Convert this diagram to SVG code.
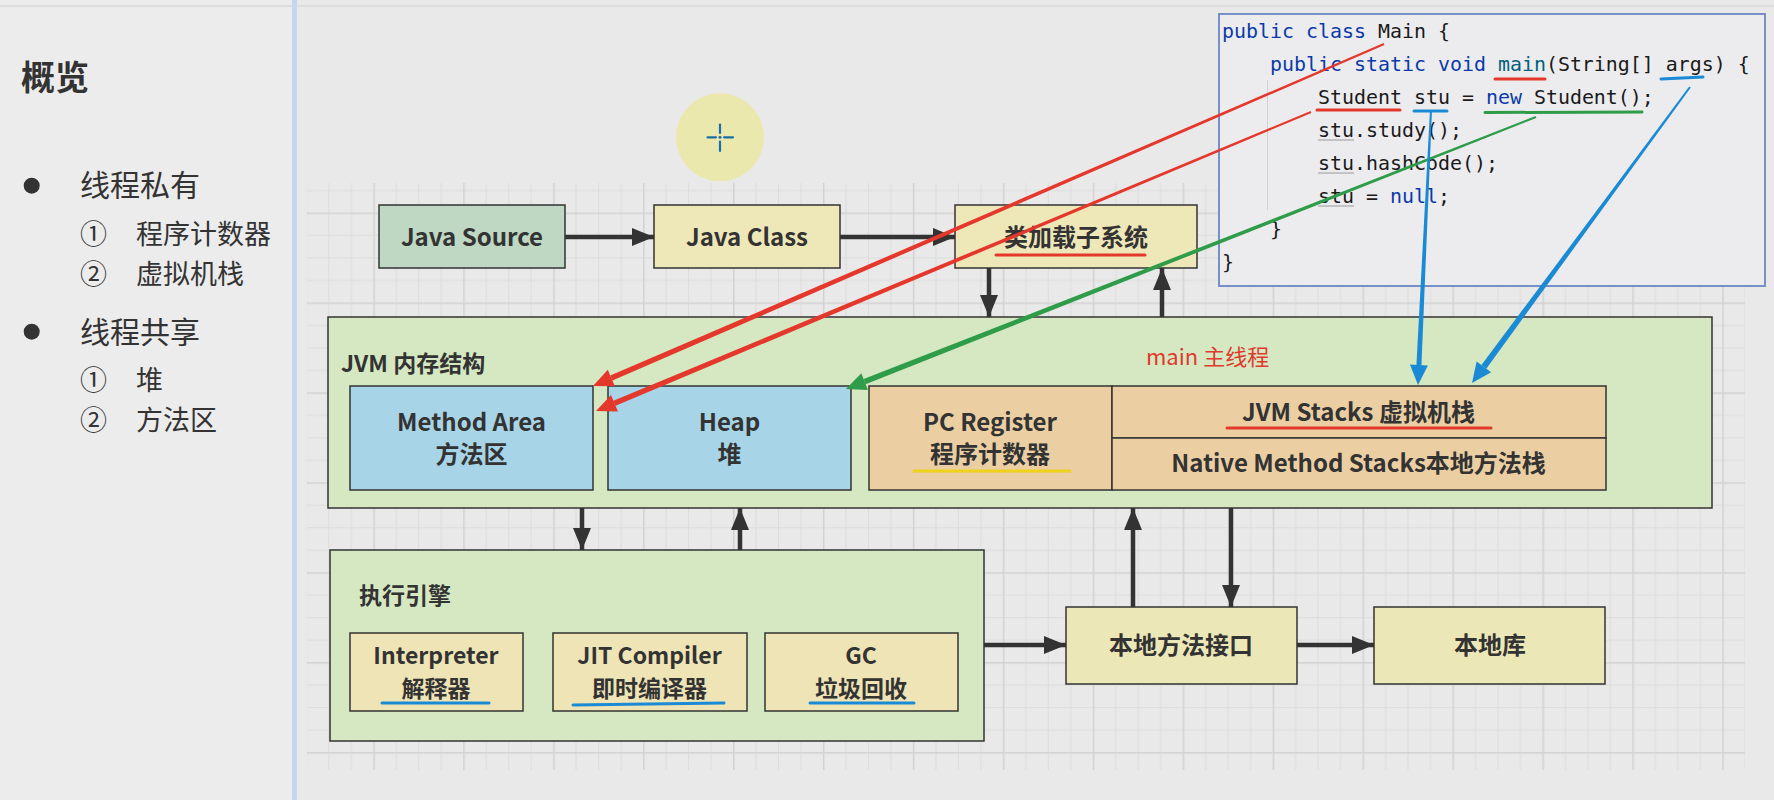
<svg xmlns="http://www.w3.org/2000/svg" width="1774" height="800" viewBox="0 0 1774 800">
<defs>
<pattern id="grid" patternUnits="userSpaceOnUse" x="373.3" y="212.5" width="89.93" height="89.93">
<rect x="22.48" y="0" width="1" height="89.93" fill="#dcdcdc"/>
<rect x="44.96" y="0" width="1" height="89.93" fill="#dcdcdc"/>
<rect x="67.45" y="0" width="1" height="89.93" fill="#dcdcdc"/>
<rect x="0" y="22.48" width="89.93" height="1" fill="#dcdcdc"/>
<rect x="0" y="44.96" width="89.93" height="1" fill="#dcdcdc"/>
<rect x="0" y="67.45" width="89.93" height="1" fill="#dcdcdc"/>
<rect x="0" y="0" width="1.5" height="89.93" fill="#d2d2d2"/>
<rect x="0" y="0" width="89.93" height="1.5" fill="#d2d2d2"/>
</pattern>
<marker id="ah" markerWidth="22" markerHeight="20" refX="22" refY="10" orient="auto" markerUnits="userSpaceOnUse">
<path d="M0,1 L22,10 L0,19 z" fill="#333"/>
</marker>
<style>
.box{stroke:#333;stroke-width:1.5}
.t{font-family:"Noto Sans CJK SC","Noto Sans",sans-serif;font-weight:bold;font-size:24px;fill:#333;text-anchor:middle}
.ts{font-size:23px}
.tl{font-family:"Noto Sans CJK SC","Noto Sans",sans-serif;font-weight:bold;font-size:23px;fill:#333}
.side{font-family:"Noto Sans CJK SC","Noto Sans",sans-serif;fill:#333}
.code{font-family:"DejaVu Sans Mono","Liberation Mono",monospace;font-size:19.93px;fill:#1a1a1a}
.kw{fill:#0b3aa8}
.fn{fill:#00627a}
.conn{stroke:#333;stroke-width:4.5;fill:none;marker-end:url(#ah)}
.ul{fill:none;stroke-width:3;stroke-linecap:round}
.red{stroke:#e5382c}
.blue{stroke:#1a8ad4}
.green{stroke:#2e9c48}
.yel{stroke:#eed21c}
</style>
</defs>

<!-- background -->
<rect x="0" y="0" width="1774" height="800" fill="#e9e9e9"/>
<rect x="0" y="0" width="292" height="800" fill="#ececec"/>
<line x1="0" y1="6" x2="1774" y2="6" stroke="#d8d8d8" stroke-width="1.5"/>
<rect x="292" y="0" width="5" height="800" fill="#c5d6f0"/>
<rect x="307" y="183" width="1438" height="587" fill="url(#grid)"/>

<!-- left panel -->
<g id="overview">
<text class="side" x="21" y="90" font-size="34" font-weight="bold" fill="#3c3c3c">概览</text>
<circle cx="31.7" cy="185.7" r="8" fill="#333"/>
<text class="side" x="80" y="196" font-size="30">线程私有</text>
<text class="side" x="80" y="243.5" font-size="27">①</text>
<text class="side" x="136" y="243.5" font-size="27">程序计数器</text>
<text class="side" x="80" y="284" font-size="27">②</text>
<text class="side" x="136" y="284" font-size="27">虚拟机栈</text>
<circle cx="31.7" cy="331.7" r="8" fill="#333"/>
<text class="side" x="80" y="342.5" font-size="30">线程共享</text>
<text class="side" x="80" y="390" font-size="27">①</text>
<text class="side" x="136" y="390" font-size="27">堆</text>
<text class="side" x="80" y="429.5" font-size="27">②</text>
<text class="side" x="136" y="429.5" font-size="27">方法区</text>
</g>

<!-- cursor highlight -->
<g id="cursor">
<circle cx="720" cy="137.3" r="44" fill="#ebe8ae"/>
<g stroke="#1a6fa8" stroke-width="2.2" stroke-linecap="round">
<line x1="707.5" y1="137.3" x2="716" y2="137.3"/>
<line x1="724" y1="137.3" x2="733" y2="137.3"/>
<line x1="720" y1="124.5" x2="720" y2="133"/>
<line x1="720" y1="141.5" x2="720" y2="151"/>
</g>
<circle cx="720" cy="137.3" r="1.5" fill="#1a6fa8"/>
</g>

<!-- code box -->
<g id="code">
<rect x="1219" y="14" width="546" height="272" fill="#ececef" stroke="#7790c8" stroke-width="2"/>
<line x1="1267.5" y1="80" x2="1267.5" y2="210" stroke="#d2d2d2" stroke-width="1"/>
<text class="code" x="1222" y="37.7" xml:space="preserve"><tspan class="kw">public class</tspan> Main {</text>
<text class="code" x="1270" y="71" xml:space="preserve"><tspan class="kw">public static void</tspan> <tspan class="fn">main</tspan>(String[] args) {</text>
<text class="code" x="1318" y="104.3" xml:space="preserve">Student stu = <tspan class="kw">new</tspan> Student();</text>
<text class="code" x="1318" y="137.3">stu.study();</text>
<text class="code" x="1318" y="170.3">stu.hashCode();</text>
<text class="code" x="1318" y="203.3" xml:space="preserve">stu = <tspan class="kw">null</tspan>;</text>
<text class="code" x="1270" y="236.3">}</text>
<text class="code" x="1222" y="269.3">}</text>
<g stroke="#9a9a9a" stroke-width="1">
<line x1="1318" y1="140" x2="1354" y2="140"/>
<line x1="1318" y1="173" x2="1354" y2="173"/>
<line x1="1318" y1="206" x2="1354" y2="206"/>
</g>
</g>

<!-- nodes -->
<g id="java-source">
<rect class="box" x="379" y="205" width="186" height="63" fill="#bed8c3"/>
<text class="t" x="472" y="246">Java Source</text>
</g>
<g id="java-class">
<rect class="box" x="654" y="205" width="186" height="63" fill="#eee7b8"/>
<text class="t" x="747" y="246">Java Class</text>
</g>
<g id="class-loader">
<rect class="box" x="955" y="205" width="242" height="63" fill="#eee7b8"/>
<text class="t" x="1076" y="246">类加载子系统</text>
</g>

<g id="jvm-memory">
<rect class="box" x="328" y="317" width="1384" height="191" fill="#d5e8c2"/>
<text class="tl" x="341" y="372">JVM 内存结构</text>
<text x="1146" y="365" font-family="Noto Sans CJK SC, Noto Sans, sans-serif" font-size="22" fill="#e03a2e">main 主线程</text>
</g>
<g id="method-area">
<rect class="box" x="350" y="386" width="243" height="104" fill="#a7d4e6"/>
<text class="t" x="471.5" y="431">Method Area</text>
<text class="t" x="471.5" y="463">方法区</text>
</g>
<g id="heap">
<rect class="box" x="608" y="386" width="243" height="104" fill="#a7d4e6"/>
<text class="t" x="729.5" y="431">Heap</text>
<text class="t" x="729.5" y="463">堆</text>
</g>
<g id="pc-register">
<rect class="box" x="869" y="386" width="243" height="104" fill="#ebcfa3"/>
<text class="t" x="990" y="431">PC Register</text>
<text class="t" x="990" y="463">程序计数器</text>
</g>
<g id="jvm-stacks">
<rect class="box" x="1112" y="386" width="494" height="52" fill="#ebcfa3"/>
<text class="t" x="1358.5" y="420.7">JVM Stacks 虚拟机栈</text>
</g>
<g id="native-stacks">
<rect class="box" x="1112" y="438" width="494" height="52" fill="#ebcfa3"/>
<text class="t" x="1358.5" y="472.3">Native Method Stacks本地方法栈</text>
</g>

<g id="exec-engine">
<rect class="box" x="330" y="550" width="654" height="191" fill="#d5e8c2"/>
<text class="tl" x="359" y="604" font-size="24">执行引擎</text>
</g>
<g id="interpreter">
<rect class="box" x="350" y="633" width="173" height="78" fill="#efe4b5"/>
<text class="t ts" x="436" y="664">Interpreter</text>
<text class="t ts" x="436" y="697">解释器</text>
</g>
<g id="jit">
<rect class="box" x="553" y="633" width="194" height="78" fill="#efe4b5"/>
<text class="t ts" x="649.5" y="664">JIT Compiler</text>
<text class="t ts" x="649.5" y="697">即时编译器</text>
</g>
<g id="gc">
<rect class="box" x="765" y="633" width="193" height="78" fill="#efe4b5"/>
<text class="t ts" x="861" y="664">GC</text>
<text class="t ts" x="861" y="697">垃圾回收</text>
</g>
<g id="native-interface">
<rect class="box" x="1066" y="607" width="231" height="77" fill="#ece7b6"/>
<text class="t" x="1181" y="654">本地方法接口</text>
</g>
<g id="native-lib">
<rect class="box" x="1374" y="607" width="231" height="77" fill="#ece7b6"/>
<text class="t" x="1490" y="654">本地库</text>
</g>

<!-- connectors -->
<g id="connectors">
<line class="conn" x1="565" y1="237" x2="654" y2="237"/>
<line class="conn" x1="840" y1="237" x2="955" y2="237"/>
<line class="conn" x1="989" y1="268" x2="989" y2="317"/>
<line class="conn" x1="1162" y1="317" x2="1162" y2="268"/>
<line class="conn" x1="582" y1="508" x2="582" y2="550"/>
<line class="conn" x1="740" y1="550" x2="740" y2="508"/>
<line class="conn" x1="1133" y1="607" x2="1133" y2="508"/>
<line class="conn" x1="1231" y1="508" x2="1231" y2="607"/>
<line class="conn" x1="984" y1="645" x2="1066" y2="645"/>
<line class="conn" x1="1297" y1="645" x2="1374" y2="645"/>
</g>

<!-- annotations: underlines -->
<g id="underlines">
<line class="ul red" x1="1495" y1="79" x2="1545" y2="79"/>
<line class="ul blue" x1="1661" y1="79" x2="1703" y2="77"/>
<line class="ul red" x1="1317" y1="110" x2="1400" y2="110"/>
<line class="ul blue" x1="1414" y1="111" x2="1447" y2="111"/>
<line class="ul green" x1="1485" y1="112.5" x2="1642" y2="112"/>
<line class="ul red" x1="996" y1="255" x2="1145" y2="255"/>
<line class="ul red" x1="1227" y1="428" x2="1491" y2="428"/>
<line class="ul yel" x1="914" y1="471" x2="1070" y2="471"/>
<line class="ul blue" x1="382" y1="703" x2="489" y2="703"/>
<line class="ul blue" x1="573" y1="705" x2="724" y2="703"/>
<line class="ul blue" x1="810" y1="703" x2="914" y2="703"/>
</g>

<!-- annotations: hand-drawn arrows -->
<g id="annotation-arrows">
<polygon fill="#e5382c" points="1383.6,43.08 1384.4,44.92 612.45,380.58 610.27,375.54"/>
<polygon fill="#e5382c" points="593,386 607.79,369.8 614.93,386.32"/>
<polygon fill="#e5382c" points="1310.61,111.08 1311.39,112.92 615.51,405.82 613.39,400.74"/>
<polygon fill="#e5382c" points="596,411 610.98,394.98 617.92,411.58"/>
<polygon fill="#2e9c48" points="1535.63,116.07 1536.37,117.93 865.62,384.23 863.6,379.11"/>
<polygon fill="#2e9c48" points="846,389 861.31,373.3 867.91,390.04"/>
<polygon fill="#1a8ad4" points="1430,109.95 1432,110.05 1421.44,365.14 1416.44,364.9"/>
<polygon fill="#1a8ad4" points="1418,385 1409.95,364.6 1427.93,365.44"/>
<polygon fill="#1a8ad4" points="1689.19,86.41 1690.81,87.59 1486.28,368.68 1481.44,365.12"/>
<polygon fill="#1a8ad4" points="1472,383 1476.61,361.56 1491.11,372.24"/>
</g>
</svg>
